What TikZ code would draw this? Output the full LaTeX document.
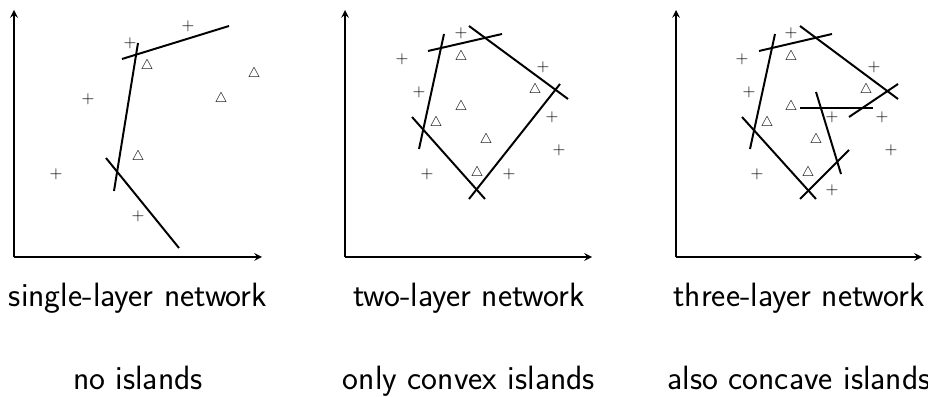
\documentclass[tikz,border=0pt]{standalone}
\usetikzlibrary{arrows}
\begin{document}
\begin{tikzpicture}[x=0.25mm, y=0.25mm, >=stealth,
  axis/.style={->, line width=1.4pt},
  boundary/.style={line width=1.4pt},
  plusmark/.style={inner sep=0pt, font=\fontsize{12}{12}\selectfont},
  trimark/.style={inner sep=0pt, font=\fontsize{10}{12}\selectfont},
  capt/.style={anchor=base, font=\sffamily\fontsize{24}{29}\selectfont}]
\useasboundingbox (0,0) rectangle (928,397);

% single layer
\begin{scope}[shift={(14,140)}]
\draw[axis] (0,0) -- (0,247);
\draw[axis] (0,0) -- (248,0);
\foreach \p [count=\i] in {(174,231),(116,214),(74,158),(42,83),(124,41)}
  \node[plusmark] (pa\i) at \p {$+$};
\foreach \p [count=\i] in {(133,191),(240,183),(207,158),(124,100)}
  \node[trimark] (ta\i) at \p {$\triangle$};
\draw[boundary] (108,198) -- (215,231);
\draw[boundary] (124,214) -- (100,66);
\draw[boundary] (92,99) -- (165,9);
\end{scope}

% two layers
\begin{scope}[shift={(345,140)}]
\draw[axis] (0,0) -- (0,247);
\draw[axis] (0,0) -- (247,0);
\foreach \p [count=\i] in {(116,224),(57,198),(198,190),(74,165),(207,140),(214,107),(82,83),(164,83)}
  \node[plusmark] (pb\i) at \p {$+$};
\foreach \p [count=\i] in {(116,200),(190,167),(116,150),(91,134),(141,117),(132,84)}
  \node[trimark] (tb\i) at \p {$\triangle$};
\draw[boundary] (83,206) -- (157,223);
\draw[boundary] (99,223) -- (74,108);
\draw[boundary] (124,231) -- (223,158);
\draw[boundary] (67,140) -- (140,58);
\draw[boundary] (215,173) -- (124,58);
\end{scope}

% three layers
\begin{scope}[shift={(676,140)}]
\draw[axis] (0,0) -- (0,247);
\draw[axis] (0,0) -- (246,0);
\foreach \p [count=\i] in {(115,224),(66,198),(198,190),(73,165),(156,140),(206,140),(215,107),(81,83),(156,67)}
  \node[plusmark] (pc\i) at \p {$+$};
\foreach \p [count=\i] in {(115,200),(190,167),(115,150),(91,134),(140,117),(132,84)}
  \node[trimark] (tc\i) at \p {$\triangle$};
\draw[boundary] (83,206) -- (156,223);
\draw[boundary] (99,223) -- (74,108);
\draw[boundary] (124,231) -- (222,158);
\draw[boundary] (66,140) -- (140,58);
\draw[boundary] (173,107) -- (124,58);
\draw[boundary] (124,149) -- (197,149);
\draw[boundary] (140,165) -- (165,83);
\draw[boundary] (222,173) -- (173,140);
\end{scope}

\node[capt] (cap1) at (138,90) {single-layer network};
\node[capt] (cap2) at (469,90) {two-layer network};
\node[capt] (cap3) at (799,90) {three-layer network};
\node[capt] (sub1) at (138,7) {no islands};
\node[capt] (sub2) at (469,7) {only convex islands};
\node[capt] (sub3) at (799,7) {also concave islands};
\end{tikzpicture}
\end{document}
